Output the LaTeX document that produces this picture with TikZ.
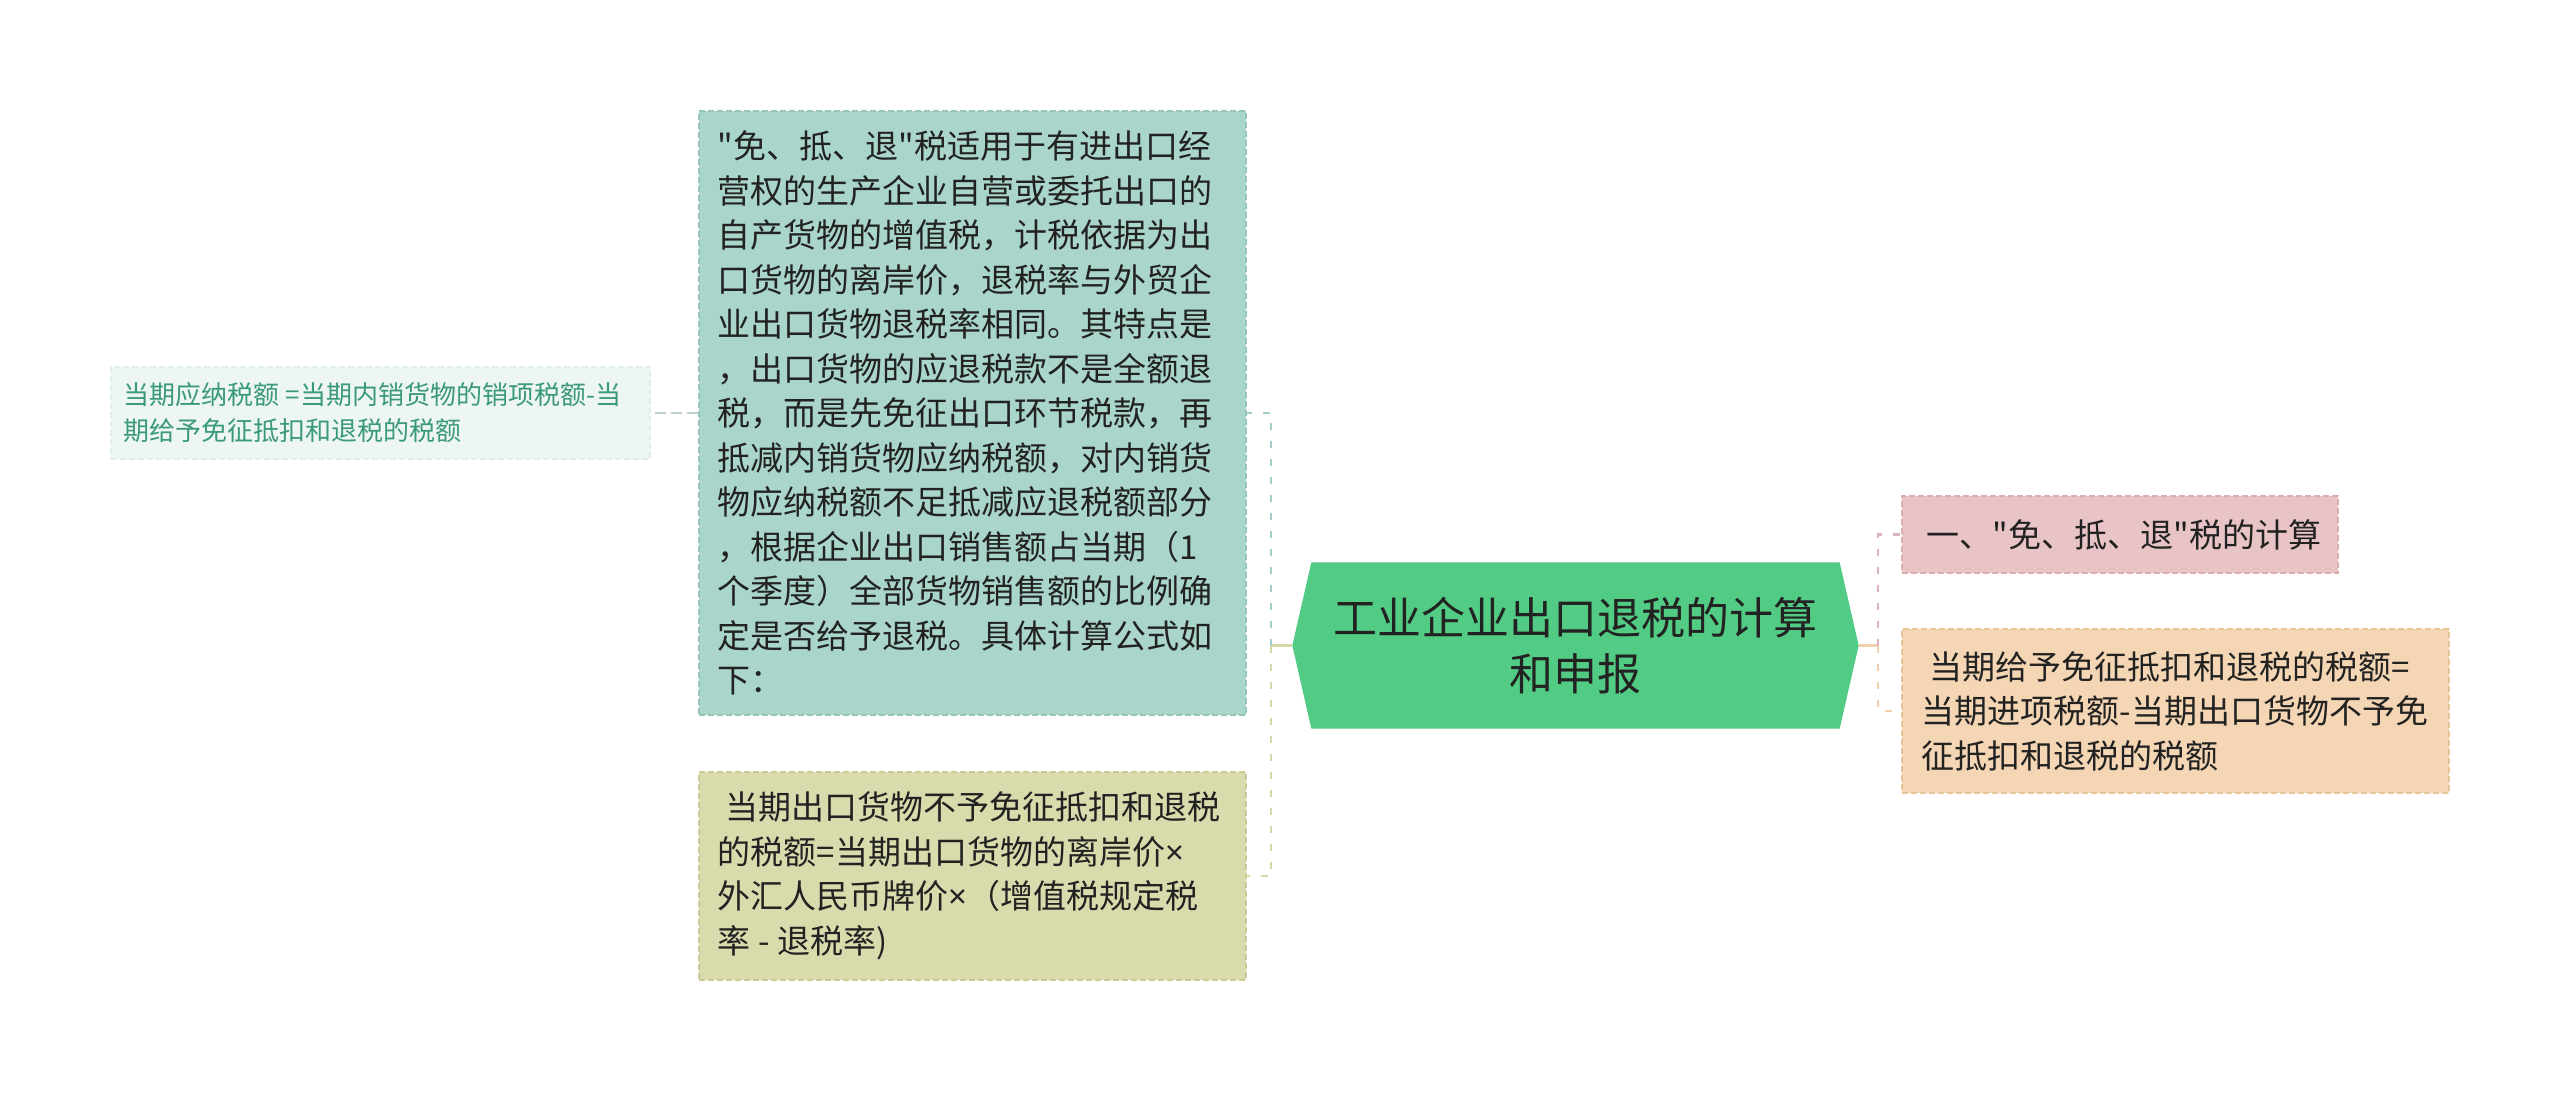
\documentclass[tikz,border=0pt]{standalone}
\usepackage{fontspec}
\setmainfont{Noto Sans CJK SC}[Ligatures=TeXOff]
\newfontfamily\latinfont{Noto Sans}
\newcommand{\tms}{{\latinfont ×}}
\usetikzlibrary{backgrounds}
\definecolor{cgreen}{HTML}{52CC84}
\definecolor{tealfill}{HTML}{A9D5CB}
\definecolor{tealline}{HTML}{93C5BA}
\definecolor{khakifill}{HTML}{D9DBAD}
\definecolor{khakiline}{HTML}{C8CA98}
\definecolor{pinkfill}{HTML}{E8C4C6}
\definecolor{pinkline}{HTML}{D8AEB1}
\definecolor{orangefill}{HTML}{F4D6B4}
\definecolor{orangeline}{HTML}{E9C49A}
\definecolor{lightfill}{HTML}{EEF6F3}
\definecolor{lightline}{HTML}{E2EEEA}
\definecolor{textdark}{HTML}{222222}
\definecolor{textteal}{HTML}{3A9A78}
\definecolor{conteal}{HTML}{A3CDC9}
\definecolor{conkhaki}{HTML}{D8D8A8}
\definecolor{conpink}{HTML}{DCB4B8}
\definecolor{conorange}{HTML}{F0CFAB}
\definecolor{congray}{HTML}{BFD3CE}
\tikzset{
  boxstyle/.style={draw=#1line, fill=#1fill, line width=0.45pt, dash pattern=on 1.8pt off 0.9pt, inner sep=0pt},
  bodytext/.style={font=\fontsize{9.9pt}{13.35pt}\selectfont, text=textdark, align=left, inner sep=0pt},
  smalltext/.style={font=\fontsize{7.8pt}{10.8pt}\selectfont, text=textteal, align=left, inner sep=0pt},
  roottext/.style={font=\fontsize{13.2pt}{16.65pt}\selectfont, text=textdark, align=center, inner sep=0pt, minimum width=169.5pt, minimum height=49.5pt},
  conn/.style={draw=#1, line width=0.8pt, dash pattern=on 2.1pt off 3.3pt},
  solidconn/.style={draw=#1, line width=0.8pt},
}
\begin{document}
\begin{tikzpicture}[x=0.3pt,y=-0.3pt]
\path[use as bounding box] (0,0) rectangle (2560,1093);

% root node
\node[roottext] (root) at (1575.5,645.5) {工业企业出口退税的计算\\和申报};
\begin{scope}[on background layer]
  \fill[white] (0,0) rectangle (2560,1093);
  \fill[cgreen] (root.west) -- ([xshift=5.7pt]root.north west) -- ([xshift=-5.7pt]root.north east)
     -- (root.east) -- ([xshift=-5.7pt]root.south east) -- ([xshift=5.7pt]root.south west) -- cycle;
\end{scope}

% left branch boxes
\node[boxstyle=teal, minimum width=164.1pt, minimum height=181.2pt] (teal) at (972.5,413) {};
\node[bodytext, anchor=west] (tealtxt) at ([xshift=5.7pt]teal.west) {"免、抵、退"税适用于有进出口经\\
营权的生产企业自营或委托出口的\\
自产货物的增值税，计税依据为出\\
口货物的离岸价，退税率与外贸企\\
业出口货物退税率相同。其特点是\\
，出口货物的应退税款不是全额退\\
税，而是先免征出口环节税款，再\\
抵减内销货物应纳税额，对内销货\\
物应纳税额不足抵减应退税额部分\\
，根据企业出口销售额占当期（1\\
个季度）全部货物销售额的比例确\\
定是否给予退税。具体计算公式如\\
下：};

\node[boxstyle=khaki, minimum width=164.1pt, minimum height=62.4pt] (khaki) at (972.5,876) {};
\node[bodytext, anchor=west] (khakitxt) at ([xshift=5.7pt]khaki.west) {\hspace*{2.4pt}当期出口货物不予免征抵扣和退税\\
的税额=当期出口货物的离岸价\tms\\
外汇人民币牌价\tms（增值税规定税\\
率 - 退税率)};

\node[boxstyle=light, minimum width=161.7pt, minimum height=27.6pt] (small) at (380.5,413) {};
\node[smalltext, anchor=west] (smalltxt) at ([xshift=3.9pt]small.west) {当期应纳税额 =当期内销货物的销项税额-当\\
期给予免征抵扣和退税的税额};

% right branch boxes
\node[boxstyle=pink, minimum width=130.8pt, minimum height=23.1pt] (pink) at (2120,534.5) {};
\node[bodytext, anchor=west] (pinktxt) at ([xshift=7.5pt]pink.west) {一、"免、抵、退"税的计算};

\node[boxstyle=orange, minimum width=164.1pt, minimum height=49.2pt] (orange) at (2175.5,711) {};
\node[bodytext, anchor=west] (orangetxt) at ([xshift=6pt]orange.west) {\hspace*{2.4pt}当期给予免征抵扣和退税的税额=\\
当期进项税额-当期出口货物不予免\\
征抵扣和退税的税额};

% connectors
\coordinate (jl) at (1271,645.5);
\coordinate (jr) at (1878,645.5);
\draw[solidconn=conkhaki] (root.west) -- (jl);
\draw[conn=conteal] (jl) |- (teal.east);
\draw[conn=conkhaki] (jl) |- (khaki.east);
\draw[solidconn=conorange] (root.east) -- (jr);
\draw[conn=conpink] (jr) |- (pink.west);
\draw[conn=conorange] (jr) |- (orange.west);
\draw[draw=congray, line width=0.6pt, dash pattern=on 3.3pt off 1.6pt] (teal.west) -- (small.east);
\end{tikzpicture}
\end{document}
